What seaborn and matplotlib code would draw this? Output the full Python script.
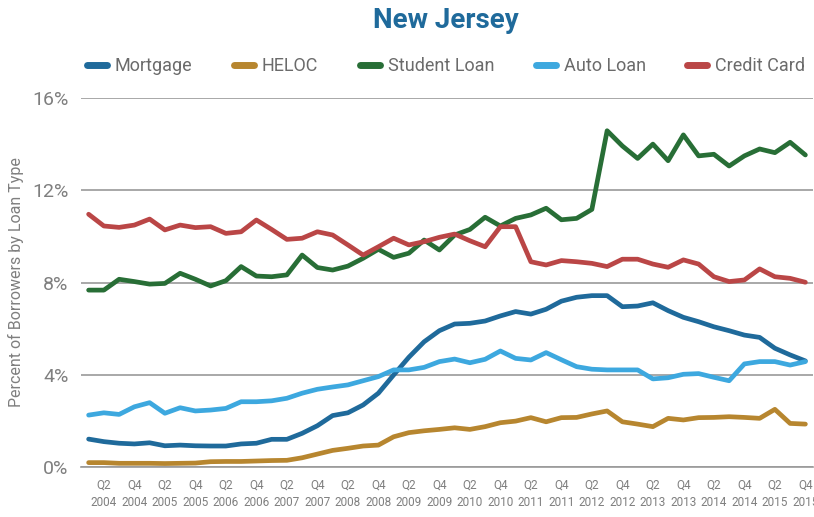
import pandas as pd
import numpy as np
import seaborn as sns
import matplotlib.pyplot as plt
from matplotlib.lines import Line2D
from matplotlib.ticker import FixedLocator


# quarterly periods Q1 2004 .. Q4 2015
years = list(range(2004, 2016))
quarters = ["Q1", "Q2", "Q3", "Q4"]

mortgage = [1.21, 1.10, 1.03, 1.00, 1.05, 0.92, 0.95, 0.92, 0.91, 0.91, 1.00, 1.03,
            1.20, 1.20, 1.46, 1.79, 2.23, 2.35, 2.69, 3.20, 3.99, 4.76, 5.43, 5.91,
            6.20, 6.23, 6.33, 6.55, 6.74, 6.63, 6.84, 7.19, 7.36, 7.43, 7.43, 6.95,
            6.98, 7.12, 6.78, 6.49, 6.30, 6.08, 5.91, 5.72, 5.62, 5.15, 4.86, 4.60]
heloc = [0.19, 0.19, 0.16, 0.16, 0.16, 0.15, 0.16, 0.17, 0.23, 0.24, 0.24, 0.26,
         0.28, 0.29, 0.40, 0.56, 0.72, 0.81, 0.91, 0.95, 1.31, 1.49, 1.57, 1.63,
         1.70, 1.63, 1.75, 1.92, 1.99, 2.14, 1.96, 2.14, 2.15, 2.30, 2.43, 1.96,
         1.86, 1.75, 2.11, 2.04, 2.14, 2.15, 2.18, 2.15, 2.11, 2.50, 1.89, 1.86]
student = [7.67, 7.67, 8.14, 8.04, 7.93, 7.96, 8.40, 8.14, 7.85, 8.08, 8.69, 8.28,
           8.25, 8.33, 9.19, 8.65, 8.54, 8.71, 9.05, 9.44, 9.09, 9.27, 9.84, 9.41,
           10.06, 10.30, 10.83, 10.45, 10.78, 10.93, 11.22, 10.72, 10.78, 11.17, 14.58, 13.92,
           13.38, 14.00, 13.28, 14.40, 13.49, 13.56, 13.05, 13.49, 13.79, 13.63, 14.08, 13.53]
auto = [2.25, 2.35, 2.28, 2.61, 2.79, 2.33, 2.57, 2.43, 2.47, 2.54, 2.83, 2.83,
        2.87, 2.98, 3.20, 3.37, 3.47, 3.56, 3.74, 3.92, 4.21, 4.21, 4.32, 4.57,
        4.68, 4.52, 4.67, 5.03, 4.71, 4.64, 4.96, 4.65, 4.35, 4.24, 4.21, 4.21,
        4.21, 3.82, 3.87, 4.02, 4.05, 3.89, 3.74, 4.47, 4.57, 4.57, 4.42, 4.57]
credit = [10.96, 10.45, 10.39, 10.49, 10.75, 10.28, 10.49, 10.38, 10.42, 10.13, 10.20, 10.71,
          10.30, 9.87, 9.92, 10.20, 10.06, 9.63, 9.19, 9.55, 9.92, 9.63, 9.77, 9.96,
          10.10, 9.81, 9.55, 10.42, 10.42, 8.90, 8.76, 8.95, 8.90, 8.83, 8.69, 9.01,
          9.01, 8.80, 8.66, 8.98, 8.80, 8.25, 8.04, 8.11, 8.59, 8.25, 8.18, 8.01]

series_names = ["Mortgage", "HELOC", "Student Loan", "Auto Loan", "Credit Card"]
colors = ["#1F6A9B", "#B7862F", "#286E36", "#3DA8DF", "#BA4646"]

periods = [(q, y) for y in years for q in quarters]
n = len(periods)

df = pd.DataFrame({"idx": list(range(n)) * 5,
                   "value": mortgage + heloc + student + auto + credit,
                   "type": sum([[s] * n for s in series_names], [])})

sns.set_style("white")
plt.rcParams["font.family"] = ["Roboto", "DejaVu Sans"]

grey = "#7f7f7f"
fig = plt.figure(figsize=(8.14, 5.17), dpi=100)
ax = fig.add_axes([81 / 814, 50 / 517, 732 / 814, 369 / 517])

sns.lineplot(data=df, x="idx", y="value", hue="type", hue_order=series_names,
             palette=colors, linewidth=3.4, legend=False, ax=ax,
             solid_capstyle="round", solid_joinstyle="round", zorder=3)

ax.set_xlim(-0.5, n - 0.5)
ax.set_ylim(0, 16)

# y axis: percent gridlines
ax.set_yticks([0, 4, 8, 12, 16])
ax.set_yticklabels(["0%", "4%", "8%", "12%", "16%"])
ax.yaxis.grid(True, color="#9a9a9a", linewidth=1.2)
ax.tick_params(axis="y", length=0, pad=9, labelsize=14, labelcolor=grey)
ax.set_ylabel("Percent of Borrowers by Loan Type", fontsize=11.5, color=grey, labelpad=6)

# x axis: labels on every other quarter, tick marks on quarter boundaries
lab_pos = [i for i in range(n) if i % 2 == 1]
ax.set_xticks(lab_pos)
ax.set_xticklabels([f"{periods[i][0]}\n{periods[i][1]}" for i in lab_pos], linespacing=1.45)
ax.xaxis.set_minor_locator(FixedLocator(np.arange(-0.5, n, 1.0)))
ax.tick_params(axis="x", which="major", length=0, pad=8, labelsize=8.5, labelcolor=grey)
ax.tick_params(axis="x", which="minor", length=6, width=1.2, color="#9a9a9a", direction="out")
ax.set_xlabel("")

for side in ["top", "right", "left"]:
    ax.spines[side].set_visible(False)
ax.spines["bottom"].set_color("#9a9a9a")
ax.spines["bottom"].set_linewidth(1.2)

fig.text(446 / 814, 1 - 21 / 517, "New Jersey", ha="center", va="center",
         fontsize=20, fontweight="bold", color="#1F6A9B")

handles = [Line2D([], [], color=c, linewidth=5, solid_capstyle="round") for c in colors]
fig.legend(handles, series_names, loc="center", bbox_to_anchor=(446 / 814, 1 - 66 / 517),
           ncol=5, frameon=False, fontsize=13, handlelength=1.1, handletextpad=0.45,
           columnspacing=2.3, labelcolor="#6b6b6b")

fig.savefig("out.png", dpi=100)
